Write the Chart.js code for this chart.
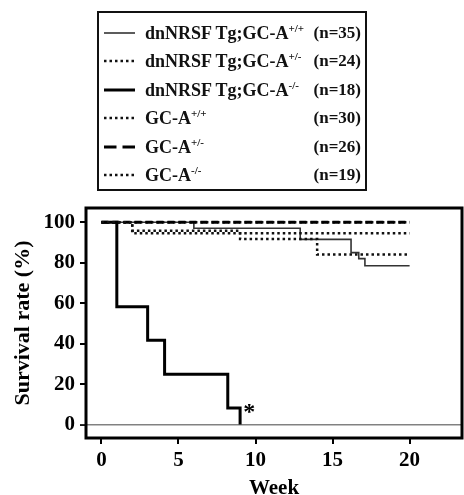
<!DOCTYPE html>
<html>
<head>
<meta charset="utf-8">
<script src="https://cdn.jsdelivr.net/npm/chart.js@4.4.0/dist/chart.umd.min.js"></script>
<style>
  body { margin: 0; background: #fff; }
  #wrap { position: relative; width: 464px; height: 495px; }
  #legend {
    position: absolute; left: 97px; top: 11px; width: 266px; height: 176px;
    border: 2px solid #111; font: bold 18px "Liberation Serif", serif; color: #111;
  }
  .row { position: absolute; left: 0; width: 100%; height: 20px; line-height: 20px; }
  .row svg { position: absolute; left: 5px; top: 7px; }
  .row .name { position: absolute; left: 46px; top: 0; white-space: nowrap; }
  .row .n { position: absolute; right: 4px; top: 0; font-size: 17px; }
  sup { font-size: 11px; line-height: 0; vertical-align: 7px; }
</style>
</head>
<body>
<div id="wrap">
  <canvas id="km" width="464" height="495"></canvas>
  <div id="legend"></div>
</div>
<script>
// legend text
const groupNames = ["dnNRSF Tg;GC-A", "dnNRSF Tg;GC-A", "dnNRSF Tg;GC-A", "GC-A", "GC-A", "GC-A"];
const groupSups = ["+/+", "+/-", "-/-", "+/+", "+/-", "-/-"];
const groupN = [35, 24, 18, 30, 26, 19];

// Kaplan-Meier steps (week, survival %)
const weeksTgWT = [0, 6, 12.9, 16.2, 16.7, 17.1, 20];
const survTgWT = [100, 97, 91.5, 85, 82, 78.5, 78.5];
const weeksTgHet = [0, 2, 9, 14, 20];
const survTgHet = [100, 95.8, 91.7, 84, 84];
const weeksTgKO = [0, 1, 3, 4.1, 8.2, 9];
const survTgKO = [100, 58.3, 41.7, 25, 8.3, 0];
const weeksWT = [0, 20];
const survWT = [100, 100];
const weeksHet = [0, 20];
const survHet = [100, 100];
const weeksKO = [0, 2, 20];
const survKO = [100, 94.5, 94.5];

const weekTicks = [0, 5, 10, 15, 20];
const survTicks = [0, 20, 40, 60, 80, 100];
const starMark = [9.6, 8];

// line styles per group, same order as the legend
const styles = [
  { color: "#333", width: 1.6, dash: [] },
  { color: "#111", width: 2.5, dash: [2.5, 3] },
  { color: "#000", width: 3, dash: [] },
  { color: "#111", width: 2.5, dash: [2.5, 3] },
  { color: "#000", width: 3, dash: [7, 4], legendDash: [12.5, 6] },
  { color: "#111", width: 2.5, dash: [2.5, 3] },
];

const seriesWeeks = [weeksTgWT, weeksTgHet, weeksTgKO, weeksWT, weeksHet, weeksKO];
const seriesSurv = [survTgWT, survTgHet, survTgKO, survWT, survHet, survKO];

// html legend
const legend = document.getElementById("legend");
groupNames.forEach((name, i) => {
  const st = styles[i];
  const dash = st.legendDash || st.dash;
  const row = document.createElement("div");
  row.className = "row";
  row.style.top = (9.7 + i * 28.5) + "px";
  row.innerHTML =
    '<svg width="31" height="6"><line x1="0" y1="3" x2="31" y2="3" stroke="' + st.color +
    '" stroke-width="' + st.width + '" stroke-dasharray="' + (dash.join(",") || "none") + '"/></svg>' +
    '<span class="name">' + name + "<sup>" + groupSups[i] + "</sup></span>" +
    '<span class="n">(n=' + groupN[i] + ")</span>";
  legend.appendChild(row);
});

const serif = "'Liberation Serif', 'Times New Roman', serif";

const framePlugin = {
  id: "frame",
  afterDatasetsDraw(chart) {
    const { ctx, chartArea, scales } = chart;
    ctx.save();
    // thin zero line
    const y0 = scales.y.getPixelForValue(0);
    ctx.strokeStyle = "#444";
    ctx.lineWidth = 1;
    ctx.beginPath();
    ctx.moveTo(chartArea.left - 6, y0);
    ctx.lineTo(chartArea.right, y0);
    ctx.stroke();
    // asterisk
    ctx.fillStyle = "#000";
    ctx.font = "bold 24px " + serif;
    ctx.textAlign = "center";
    ctx.textBaseline = "middle";
    ctx.fillText("*", scales.x.getPixelForValue(starMark[0]), scales.y.getPixelForValue(starMark[1]) + 4);
    // box
    ctx.strokeStyle = "#000";
    ctx.lineWidth = 3;
    ctx.strokeRect(chartArea.left, chartArea.top, chartArea.right - chartArea.left, chartArea.bottom - chartArea.top);
    ctx.restore();
  },
};

new Chart(document.getElementById("km"), {
  type: "line",
  data: {
    datasets: seriesWeeks.map((w, i) => ({
      data: w.map((x, k) => ({ x: x, y: seriesSurv[i][k] })),
      stepped: "before",
      borderColor: styles[i].color,
      borderWidth: styles[i].width,
      borderDash: styles[i].dash,
      borderCapStyle: "butt",
      borderJoinStyle: "miter",
      pointRadius: 0,
      fill: false,
    })).reverse(),
  },
  options: {
    responsive: false,
    animation: false,
    layout: { padding: { top: 208, right: 2, left: 0, bottom: 0 } },
    plugins: { legend: { display: false }, tooltip: { enabled: false } },
    scales: {
      x: {
        type: "linear",
        min: -1,
        max: 23.4,
        afterBuildTicks: (s) => { s.ticks = weekTicks.map((v) => ({ value: v })); },
        afterFit: (s) => { s.height = 57; },
        border: { display: false },
        grid: { drawOnChartArea: false, drawTicks: true, tickLength: 6, color: "#000", lineWidth: 2 },
        ticks: { color: "#000", font: { family: serif, size: 21, weight: "bold" }, padding: 4, maxRotation: 0 },
        title: { display: true, text: "Week", color: "#000", font: { family: serif, size: 21, weight: "bold" }, padding: { top: 0, bottom: -6 } },
      },
      y: {
        min: -6.5,
        max: 107,
        afterBuildTicks: (s) => { s.ticks = survTicks.map((v) => ({ value: v })); },
        afterFit: (s) => { s.width = 86; },
        border: { display: false },
        grid: { drawOnChartArea: false, drawTicks: true, tickLength: 6, color: "#000", lineWidth: 2 },
        ticks: { color: "#000", font: { family: serif, size: 21, weight: "bold" }, padding: 5 },
        title: { display: true, text: "Survival rate (%)", color: "#000", font: { family: serif, size: 22, weight: "bold" }, padding: { top: 10, bottom: 0 } },
      },
    },
  },
  plugins: [framePlugin],
});
</script>
</body>
</html>
